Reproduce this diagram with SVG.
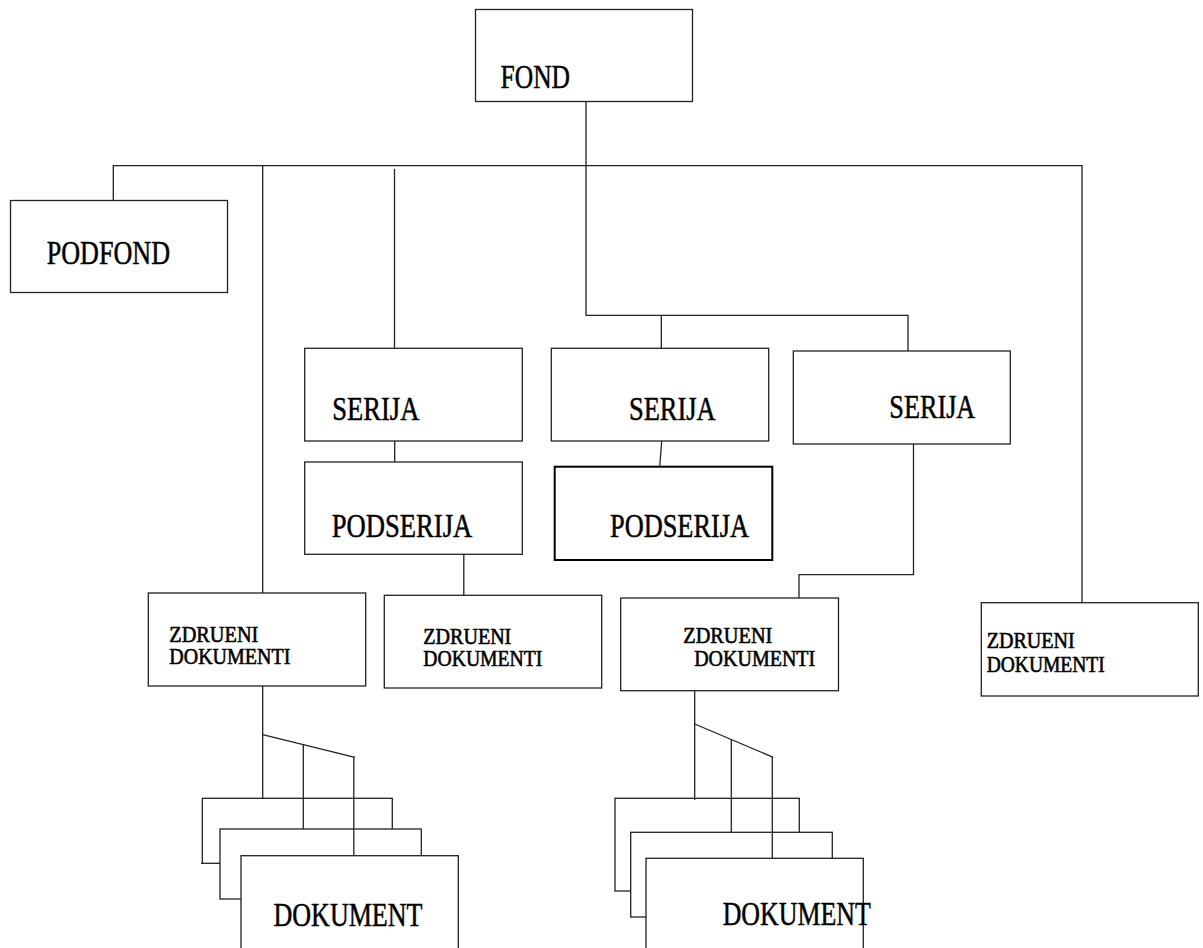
<svg xmlns="http://www.w3.org/2000/svg" width="1203" height="948" viewBox="0 0 1203 948">
<style>
.box{fill:#fff;stroke:#222;stroke-width:1.3}
.thick{fill:#fff;stroke:#000;stroke-width:2}
.big{font-family:"Liberation Serif","Times New Roman",serif;font-size:33px;fill:#000;stroke:#000;stroke-width:0.5}
.sm{font-family:"Liberation Serif","Times New Roman",serif;font-size:22.5px;fill:#000;stroke:#000;stroke-width:0.6}
.ln{fill:none;stroke:#222;stroke-width:1.3}
</style>
<rect width="1203" height="948" fill="#fff"/>
<g id="fond"><rect class="box" x="475.5" y="9.5" width="217" height="92"/><text class="big" x="500.5" y="87.7" textLength="69.5" lengthAdjust="spacingAndGlyphs">FOND</text></g>
<g id="podfond"><rect class="box" x="10.5" y="200.5" width="217" height="92"/><text class="big" x="46.7" y="264.3" textLength="123.3" lengthAdjust="spacingAndGlyphs">PODFOND</text></g>
<g id="serija1"><rect class="box" x="304.7" y="348.3" width="217.6" height="92.7"/><text class="big" x="332.3" y="420" textLength="87" lengthAdjust="spacingAndGlyphs">SERIJA</text></g>
<g id="serija2"><rect class="box" x="551.3" y="348.3" width="217.4" height="92.7"/><text class="big" x="629" y="420" textLength="86.7" lengthAdjust="spacingAndGlyphs">SERIJA</text></g>
<g id="serija3"><rect class="box" x="793.3" y="351" width="217" height="93"/><text class="big" x="889.3" y="418.3" textLength="86" lengthAdjust="spacingAndGlyphs">SERIJA</text></g>
<g id="podserija1"><rect class="box" x="304.7" y="462" width="217.6" height="92.3"/><text class="big" x="331.7" y="536.7" textLength="140.6" lengthAdjust="spacingAndGlyphs">PODSERIJA</text></g>
<g id="podserija2"><rect class="thick" x="554.7" y="466.7" width="217.6" height="93.3"/><text class="big" x="610" y="536.7" textLength="139" lengthAdjust="spacingAndGlyphs">PODSERIJA</text></g>
<g id="zd1"><rect class="box" x="148.3" y="593" width="217.4" height="93"/><text class="sm" x="169.3" y="641.7" textLength="89" lengthAdjust="spacingAndGlyphs">ZDRUENI</text><text class="sm" x="169.3" y="664.3" textLength="121" lengthAdjust="spacingAndGlyphs">DOKUMENTI</text></g>
<g id="zd2"><rect class="box" x="384.3" y="595.3" width="217.4" height="92.7"/><text class="sm" x="423.3" y="643.5" textLength="88" lengthAdjust="spacingAndGlyphs">ZDRUENI</text><text class="sm" x="423.3" y="666.3" textLength="119" lengthAdjust="spacingAndGlyphs">DOKUMENTI</text></g>
<g id="zd3"><rect class="box" x="620.7" y="598" width="217.8" height="92.7"/><text class="sm" x="683.3" y="643" textLength="89" lengthAdjust="spacingAndGlyphs">ZDRUENI</text><text class="sm" x="694.2" y="666" textLength="121" lengthAdjust="spacingAndGlyphs">DOKUMENTI</text></g>
<g id="zd4"><rect class="box" x="981.3" y="602.7" width="217" height="93.3"/><text class="sm" x="986.7" y="648.3" textLength="88" lengthAdjust="spacingAndGlyphs">ZDRUENI</text><text class="sm" x="986.7" y="671.7" textLength="118" lengthAdjust="spacingAndGlyphs">DOKUMENTI</text></g>
<g id="dokument-left">
<rect class="box" x="202.3" y="798.3" width="190" height="65"/>
<line class="ln" x1="201" y1="863.3" x2="203" y2="863.3"/>
<rect class="box" x="220" y="829" width="201.3" height="70"/>
<rect class="box" x="241" y="855.7" width="217.3" height="100"/>
<text class="big" x="273.5" y="925.7" textLength="149" lengthAdjust="spacingAndGlyphs">DOKUMENT</text>
</g>
<g id="dokument-right">
<rect class="box" x="615" y="798.3" width="184.3" height="92.7"/>
<rect class="box" x="630.7" y="832.3" width="201.6" height="84.7"/>
<rect class="box" x="646" y="858.3" width="217.3" height="100"/>
<text class="big" x="722.7" y="924.5" textLength="148" lengthAdjust="spacingAndGlyphs">DOKUMENT</text>
</g>
<g id="connectors">
<path class="ln" d="M586 101.7V315.3H908V351"/>
<path class="ln" d="M113.3 200.5V165.7H1082V602.7"/>
<path class="ln" d="M262.7 165.7V593"/>
<path class="ln" d="M394.5 169V348.3"/>
<path class="ln" d="M661.3 315.3V348.3"/>
<path class="ln" d="M394.7 441V462"/>
<path class="ln" d="M661.7 441L659.7 466.7"/>
<path class="ln" d="M463.8 554.3V595.3"/>
<path class="ln" d="M913.5 444V574.7H799V598"/>
<path class="ln" d="M262.7 686V798.3"/>
<path class="ln" d="M262.7 734.7L355 757.3"/>
<path class="ln" d="M303.3 744.8V829"/>
<path class="ln" d="M353.8 757V855.7"/>
<path class="ln" d="M694.7 690.7V800"/>
<path class="ln" d="M694.7 724L773.3 757.3"/>
<path class="ln" d="M731.3 740V832.3"/>
<path class="ln" d="M772.3 757V858.3"/>
</g>
</svg>
